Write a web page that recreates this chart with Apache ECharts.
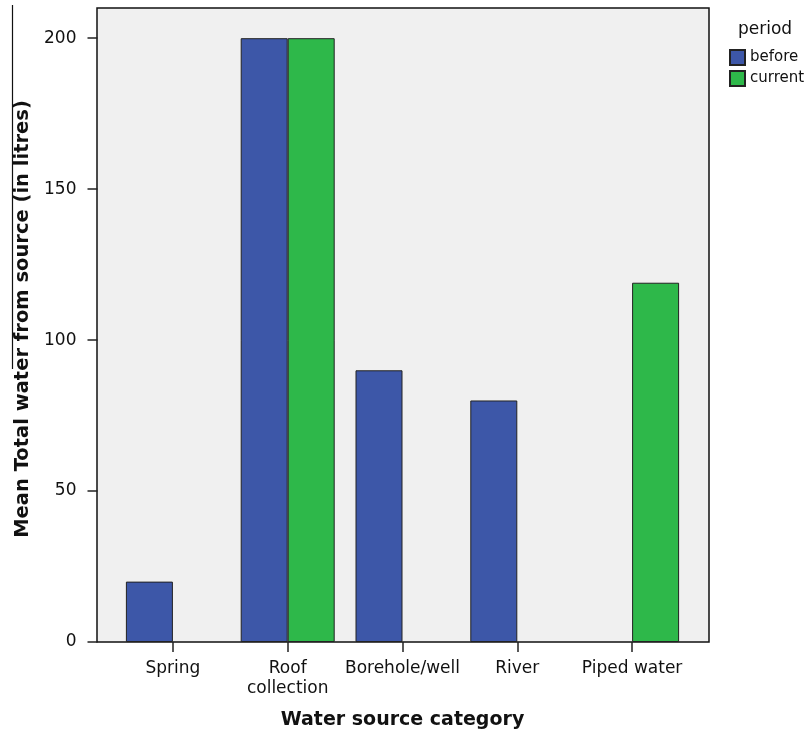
<!DOCTYPE html>
<html>
<head>
<meta charset="utf-8">
<script src="https://cdn.jsdelivr.net/npm/echarts@6/dist/echarts.min.js"></script>
<style>
html,body{margin:0;padding:0;background:#fff;}
#chart{width:807px;height:736px;}
</style>
</head>
<body>
<div id="chart"></div>
<script>
const categories = ['Spring', 'Roof\ncollection', 'Borehole/well', 'River', 'Piped water'];
const beforeValues = [20, 200, 90, 80, null];
const currentValues = [null, 200, null, null, 119];
const yTickValues = [0, 50, 100, 150, 200];
const seriesNames = ['before', 'current'];

const FONT = 'DejaVu Sans';
const chart = echarts.init(document.getElementById('chart'), null, {renderer: 'canvas'});
chart.setOption({
  animation: false,
  backgroundColor: '#ffffff',
  title: {
    text: 'period', left: 738, top: 21, padding: 0,
    textStyle: {fontFamily: FONT, fontSize: 17, fontWeight: 'normal', color: '#111'}
  },
  legend: {
    orient: 'vertical', left: 729, top: 49, padding: 0,
    itemWidth: 15, itemHeight: 15, itemGap: 4,
    icon: 'rect',
    textStyle: {fontFamily: FONT, fontSize: 15, color: '#111', padding: [0, 0, 0, 0]},
    data: seriesNames
  },
  grid: [
    {left: 97, right: 98, top: 8, bottom: 94, show: true, backgroundColor: '#f0f0f0', borderColor: '#111', borderWidth: 1.5, containLabel: false},
    {left: 115.5, right: 117.5, top: 8, bottom: 94, containLabel: false}
  ],
  xAxis: [
    {gridIndex: 0, type: 'value', show: false, min: 0, max: 1},
    {
      gridIndex: 1, type: 'category', data: categories,
      name: 'Water source category', nameLocation: 'middle', nameGap: 69,
      nameTextStyle: {fontFamily: FONT, fontSize: 19, fontWeight: 'bold', color: '#111'},
      axisLine: {show: false},
      axisTick: {show: true, alignWithLabel: true, length: 10, inside: false, lineStyle: {color: '#222', width: 1.5}},
      axisLabel: {fontFamily: FONT, fontSize: 17, color: '#111', margin: 17, lineHeight: 20, interval: 0},
      splitLine: {show: false}
    }
  ],
  yAxis: [
    {gridIndex: 0, type: 'value', show: false, min: 0, max: 1},
    {
      gridIndex: 1, type: 'value', min: 0, max: 210, interval: 50, offset: 18,
      name: 'Mean Total water from source (in litres)', nameLocation: 'middle', nameGap: 65,
      nameTextStyle: {fontFamily: FONT, fontSize: 19.5, fontWeight: 'bold', color: '#111', padding: [0, 0, 0, 12]},
      axisLine: {show: false},
      axisTick: {show: true, length: 10, customValues: yTickValues, lineStyle: {color: '#222', width: 1.5}},
      axisLabel: {fontFamily: FONT, fontSize: 17, color: '#111', margin: 21, customValues: yTickValues},
      splitLine: {show: false}
    }
  ],
  series: [
    {
      name: seriesNames[0], type: 'bar', xAxisIndex: 1, yAxisIndex: 1,
      data: beforeValues, barWidth: 47, barGap: '0%',
      itemStyle: {color: '#3d57a8', borderColor: '#222', borderWidth: 1}
    },
    {
      name: seriesNames[1], type: 'bar', xAxisIndex: 1, yAxisIndex: 1,
      data: currentValues, barWidth: 47, barGap: '0%',
      itemStyle: {color: '#2eb84a', borderColor: '#222', borderWidth: 1}
    }
  ],
  graphic: [
    {type: 'line', shape: {x1: 12.5, y1: 5, x2: 12.5, y2: 369}, style: {stroke: '#111', lineWidth: 1.2}, silent: true}
  ]
});
</script>
</body>
</html>
